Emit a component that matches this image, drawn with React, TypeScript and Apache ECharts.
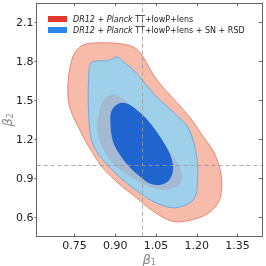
import React, { useEffect, useRef } from "react";
import * as echarts from "echarts";

// contour boundaries in data coordinates [beta1, beta2]
const redOuter: number[][] = [
  [0.727, 1.504], [0.727, 1.657], [0.738, 1.795], [0.753, 1.872], [0.782, 1.926],
  [0.826, 1.941], [0.882, 1.941], [0.926, 1.933], [0.967, 1.91], [0.992, 1.864],
  [1.015, 1.788], [1.04, 1.696], [1.074, 1.603], [1.111, 1.519], [1.147, 1.435],
  [1.184, 1.343], [1.214, 1.25], [1.24, 1.174], [1.262, 1.105], [1.28, 1.012],
  [1.291, 0.905], [1.291, 0.813], [1.284, 0.736], [1.262, 0.667], [1.225, 0.613],
  [1.184, 0.583], [1.14, 0.567], [1.103, 0.575], [1.066, 0.613], [1.022, 0.675],
  [0.978, 0.752], [0.926, 0.836], [0.882, 0.92], [0.845, 1.005], [0.812, 1.112],
  [0.786, 1.204], [0.764, 1.296], [0.741, 1.396],
];
const redInner: number[][] = [
  [0.837, 1.366], [0.845, 1.45], [0.86, 1.511], [0.882, 1.542], [0.904, 1.542],
  [0.933, 1.504], [0.963, 1.442], [1.0, 1.366], [1.037, 1.273], [1.074, 1.181],
  [1.103, 1.097], [1.129, 1.012], [1.144, 0.936], [1.14, 0.867], [1.118, 0.828],
  [1.077, 0.813], [1.029, 0.836], [0.981, 0.882], [0.933, 0.943], [0.889, 1.02],
  [0.86, 1.105], [0.841, 1.197], [0.834, 1.289],
];
const blueOuter: number[][] = [
  [0.808, 1.78], [0.83, 1.803], [0.867, 1.803], [0.889, 1.818], [0.904, 1.834],
  [0.915, 1.826], [0.93, 1.795], [0.955, 1.757], [0.981, 1.703], [1.011, 1.626],
  [1.048, 1.534], [1.092, 1.45], [1.133, 1.373], [1.166, 1.296], [1.184, 1.212],
  [1.195, 1.12], [1.203, 1.005], [1.203, 0.89], [1.199, 0.79], [1.184, 0.729],
  [1.151, 0.69], [1.111, 0.675], [1.066, 0.698], [1.022, 0.744], [0.974, 0.813],
  [0.919, 0.905], [0.874, 0.997], [0.834, 1.097], [0.812, 1.197], [0.804, 1.312],
  [0.801, 1.465], [0.801, 1.619],
];
const blueInner: number[][] = [
  [0.882, 1.35], [0.885, 1.412], [0.9, 1.458], [0.922, 1.481], [0.945, 1.473],
  [0.974, 1.435], [1.011, 1.366], [1.048, 1.273], [1.077, 1.181], [1.099, 1.097],
  [1.111, 1.02], [1.111, 0.944], [1.096, 0.882], [1.066, 0.851], [1.029, 0.859],
  [0.992, 0.913], [0.955, 0.982], [0.922, 1.066], [0.896, 1.158], [0.885, 1.25],
];

const xTicks = [0.75, 0.9, 1.05, 1.2, 1.35];
const yTicks = [0.6, 0.9, 1.2, 1.5, 1.8, 2.1];
const refX = 1.0;
const refY = 1.0;
const nameRed = "DR12 + Planck TT+lowP+lens";
const nameBlue = "DR12 + Planck TT+lowP+lens + SN + RSD";

const FONT = "DejaVu Sans";

function contour(name: string, pts: number[][], fill: string, stroke: string | null, z: number, legendColor: string) {
  return {
    type: "custom",
    name,
    z,
    data: pts,
    encode: { x: 0, y: 1 },
    itemStyle: { color: legendColor },
    clip: true,
    renderItem: (params: any, api: any) => {
      if (params.dataIndex !== 0) return null;
      const points = pts.map((p) => api.coord(p));
      return {
        type: "polygon",
        shape: { points, smooth: 0.35 },
        style: {
          fill,
          stroke: stroke || "none",
          lineWidth: stroke ? 1 : 0,
        },
      };
    },
  };
}

const nameRich = {
  b: { fontSize: 13, fontStyle: "italic", color: "#888", fontFamily: FONT, lineHeight: 14 },
  s: { fontSize: 8, color: "#888", fontFamily: FONT, verticalAlign: "bottom", lineHeight: 14 },
};

export default function App() {
  const ref = useRef<HTMLDivElement>(null);
  useEffect(() => {
    const chart = echarts.init(ref.current!, null, { renderer: "svg" });
    const axisCommon = {
      axisLine: { show: true, onZero: false, lineStyle: { color: "#666", width: 1 } },
      splitLine: { show: false },
    };
    chart.setOption({
      animation: false,
      textStyle: { fontFamily: FONT },
      grid: { left: 36.5, right: 4, top: 3, bottom: 29.5, containLabel: false, outerBoundsMode: "none" },
      legend: {
        left: 43,
        top: 10,
        orient: "vertical",
        itemWidth: 19,
        itemHeight: 6,
        itemGap: 3,
        icon: "rect",
        data: [
          { name: nameRed, itemStyle: { color: "#e3392d" } },
          { name: nameBlue, itemStyle: { color: "#2a86ea" } },
        ],
        formatter: (n: string) =>
          n.replace("DR12", "{i|DR12}").replace("Planck", "{i|Planck}"),
        textStyle: {
          fontFamily: FONT,
          fontSize: 8,
          color: "#222",
          padding: [0, 0, 0, 1],
          rich: { i: { fontStyle: "italic", fontSize: 8, fontFamily: FONT, color: "#222" } },
        },
      },
      xAxis: [
        {
          type: "value",
          min: 0.61,
          max: 1.44,
          ...axisCommon,
          name: "{b|β}{s|1}",
          nameLocation: "middle",
          nameGap: 16,
          nameMoveOverlap: false,
          nameTextStyle: { rich: nameRich },
          axisTick: { show: true, inside: true, length: 3, customValues: xTicks, lineStyle: { color: "#666" } },
          axisLabel: {
            customValues: xTicks,
            formatter: (v: number) => v.toFixed(2),
            fontSize: 11,
            color: "#222",
            margin: 3,
            fontFamily: FONT,
          },
        },
        {
          type: "value",
          position: "top",
          min: 0.61,
          max: 1.44,
          ...axisCommon,
          axisTick: { show: true, inside: true, length: 3, customValues: xTicks, lineStyle: { color: "#666" } },
          axisLabel: { show: false },
        },
      ],
      yAxis: [
        {
          type: "value",
          min: 0.454,
          max: 2.248,
          ...axisCommon,
          name: "{b|β}{s|2}",
          nameLocation: "middle",
          nameGap: 22,
          nameMoveOverlap: false,
          nameRotate: 90,
          nameTextStyle: { rich: nameRich },
          axisTick: { show: true, inside: false, length: 2, customValues: yTicks, lineStyle: { color: "#666" } },
          axisLabel: {
            customValues: yTicks,
            formatter: (v: number) => v.toFixed(1),
            fontSize: 11,
            color: "#222",
            margin: 3,
            fontFamily: FONT,
          },
        },
        {
          type: "value",
          position: "right",
          min: 0.454,
          max: 2.248,
          ...axisCommon,
          axisTick: { show: true, inside: true, length: 3, customValues: yTicks, lineStyle: { color: "#666" } },
          axisLabel: { show: false },
        },
      ],
      series: [
        contour(nameRed, redOuter, "#f6bba9", "#ea8470", 1, "#e3392d"),
        contour(nameBlue, blueOuter, "#9fd0ea", "#72a9e2", 2, "#2a86ea"),
        contour("red68", redInner, "#a4b9d2", null, 3, "#a4b9d2"),
        contour("blue68", blueInner, "#2064cf", null, 4, "#2064cf"),
        {
          type: "line",
          name: "ref",
          data: [],
          z: 10,
          markLine: {
            silent: true,
            symbol: "none",
            label: { show: false },
            lineStyle: { type: [4, 3], color: "rgba(150,150,150,0.8)", width: 1 },
            data: [{ xAxis: refX }, { yAxis: refY }],
          },
        },
      ],
    });
    return () => chart.dispose();
  }, []);
  return <div ref={ref} style={{ position: "fixed", left: 0, top: 0, width: 266, height: 266 }} />;
}
